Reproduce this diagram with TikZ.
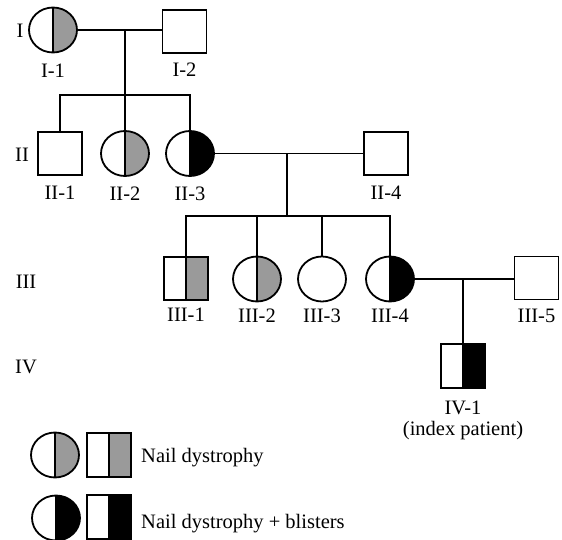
\documentclass[tikz,border=0pt]{standalone}
\usepackage{fontspec}
\setmainfont{Liberation Serif}
\usetikzlibrary{positioning,shapes.geometric}
\definecolor{nailGray}{HTML}{9A9A9A}
\newcommand{\pedfont}{\fontsize{20.5}{24}\selectfont}
\tikzset{
  fem/.style={draw, line width=1.8pt, ellipse, minimum width=48pt, minimum height=45pt, inner sep=0pt},
  masc/.style={draw, line width=1.8pt, rectangle, minimum width=44pt, minimum height=43pt, inner sep=0pt},
  halffill/.style={path picture={\fill[#1] (path picture bounding box.north) rectangle (path picture bounding box.south east);
    \draw[line width=1.8pt] (path picture bounding box.north) -- (path picture bounding box.south);}},
  nail/.style={halffill=nailGray},
  blister/.style={halffill=black},
  lbl/.style={font=\pedfont, inner sep=0pt},
  tie/.style={line width=1.5pt},
}
\begin{document}
\begin{tikzpicture}[x=1pt, y=-1pt]
\useasboundingbox (0,0) rectangle (562,540);
% generation I
\node[fem, nail] (I1) at (53,30) {};
\node[masc] (I2) at (184.5,31.5) {};
% generation II
\node[masc] (II1) at (60,153.5) {};
\node[fem, nail] (II2) at (125,153.5) {};
\node[fem, blister] (II3) at (190,153.5) {};
\node[masc] (II4) at (386,153.5) {};
% generation III
\node[masc, nail] (III1) at (186,278.5) {};
\node[fem, nail] (III2) at (257,279) {};
\node[fem] (III3) at (322,279) {};
\node[fem, blister] (III4) at (390,279) {};
\node[masc] (III5) at (536.5,278) {};
% generation IV
\node[masc, blister, minimum height=44pt] (IV1) at (463,366) {};

% generation labels
\node[lbl] (gI) at (20,31) {I};
\node[lbl] (gII) at (22,155) {II};
\node[lbl] (gIII) at (26,282) {III};
\node[lbl] (gIV) at (26,367) {IV};

% individual labels
\node[lbl, below=10pt of I1] (lI1) {I-1};
\node[lbl, below=9pt of I2] (lI2) {I-2};
\node[lbl, below=10pt of II1] (lII1) {II-1};
\node[lbl, below=10pt of II2] (lII2) {II-2};
\node[lbl, below=10pt of II3] (lII3) {II-3};
\node[lbl, below=10pt of II4] (lII4) {II-4};
\node[lbl, below=7pt of III1] (lIII1) {III-1};
\node[lbl, below=6.5pt of III2] (lIII2) {III-2};
\node[lbl, below=6.5pt of III3] (lIII3) {III-3};
\node[lbl, below=6.5pt of III4] (lIII4) {III-4};
\node[lbl, below=8pt of III5] (lIII5) {III-5};
\node[lbl, below=12pt of IV1] (lIV1) {IV-1};
\node[lbl, below=6pt of lIV1] (idx) {(index patient)};

% matings and sibships
\draw[tie] (I1.east) -- (I1.east -| I2.west);
\coordinate (d1) at (I1.east -| II2.north);
\coordinate (s2) at (125,95);
\draw[tie] (d1) -- (II2.north);
\draw[tie] (II1.north) |- (s2) -| (II3.north);

\draw[tie] (II3.east) -- (II3.east -| II4.west);
\coordinate (d2) at (287,153.5);
\coordinate (s3) at (287,216);
\draw[tie] (d2) -- (s3);
\draw[tie] (III1.north) |- (s3) -| (III4.north);
\draw[tie] (III2.north) -- (III2.north |- s3);
\draw[tie] (III3.north) -- (III3.north |- s3);

\draw[tie] (III4.east) -- (III4.east -| III5.west);
\coordinate (d3) at (463,278);
\draw[tie] (d3) -- (IV1.north);

% key
\node[fem, nail] (keyNf) at (55,455) {};
\node[masc, nail, minimum height=44pt] (keyNm) at (109,455) {};
\node[lbl, anchor=base west] (keyN) at (141,462) {Nail dystrophy};
\node[fem, blister] (keyBf) at (56,518) {};
\node[masc, blister, minimum height=44pt] (keyBm) at (109,517) {};
\node[lbl, anchor=base west] (keyB) at (141,528) {Nail dystrophy + blisters};
\end{tikzpicture}
\end{document}
